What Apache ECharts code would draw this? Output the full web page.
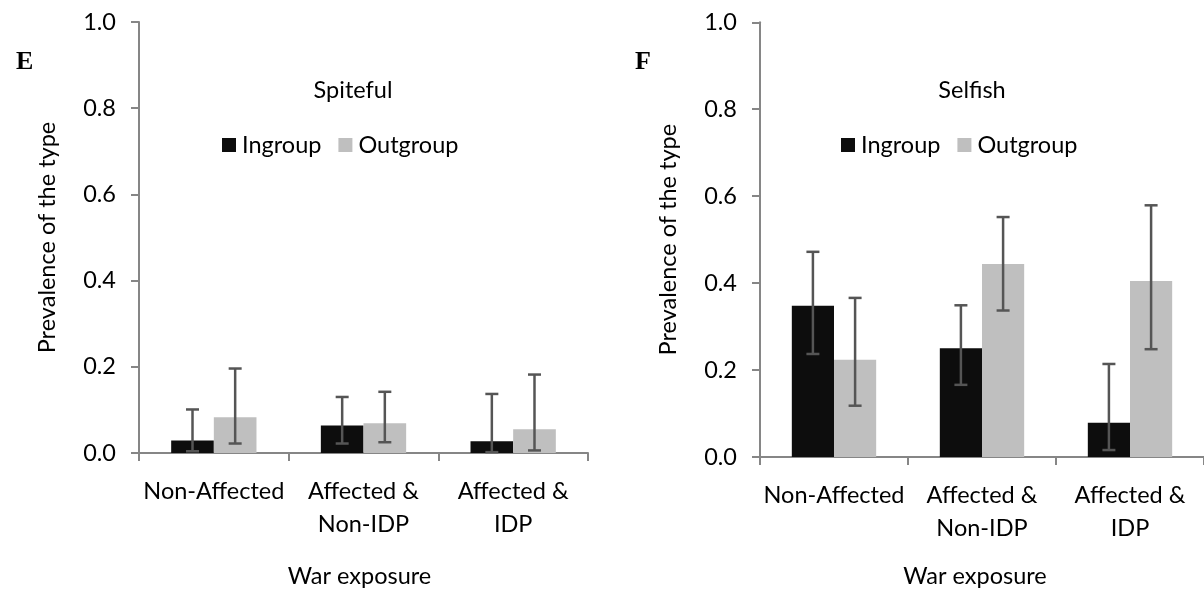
<!DOCTYPE html>
<html>
<head>
<meta charset="utf-8">
<script src="https://cdn.jsdelivr.net/npm/echarts@6/dist/echarts.min.js"></script>
<style>
  html, body { margin: 0; padding: 0; background: #fff; }
  #chart { width: 1204px; height: 593px; }
</style>
</head>
<body>
<div id="chart"></div>
<script>
// Categories of war exposure (x axis)
const categories = ['Non-Affected', 'Affected &\nNon-IDP', 'Affected &\nIDP'];
const yTicks = [0, 0.2, 0.4, 0.6, 0.8, 1.0];

// Panel E: Spiteful type
const spitefulIn = [0.029, 0.064, 0.027];
const spitefulInLow = [0.004, 0.022, 0.002];
const spitefulInHigh = [0.101, 0.130, 0.137];
const spitefulOut = [0.083, 0.069, 0.055];
const spitefulOutLow = [0.022, 0.025, 0.006];
const spitefulOutHigh = [0.196, 0.142, 0.182];

// Panel F: Selfish type
const selfishIn = [0.348, 0.250, 0.079];
const selfishInLow = [0.237, 0.166, 0.016];
const selfishInHigh = [0.472, 0.349, 0.214];
const selfishOut = [0.224, 0.444, 0.405];
const selfishOutLow = [0.118, 0.337, 0.248];
const selfishOutHigh = [0.366, 0.552, 0.579];

const FONT = 'Lato';
const FS = 23.5;
const AXIS_COLOR = '#868686';
const IN_COLOR = '#0d0d0d';
const OUT_COLOR = '#bfbfbf';
const ERR_COLOR = '#555555';
const CAT_GAP = 0.43;

function errorItems(low, high) {
  return low.map((l, i) => [i, l, high[i]]);
}

// Whisker with caps, centred on the bar of the given side (-1 ingroup, +1 outgroup)
function errorRenderer(side) {
  return function (params, api) {
    const idx = api.value(0);
    const lo = api.coord([idx, api.value(1)]);
    const hi = api.coord([idx, api.value(2)]);
    const band = api.size([1, 0])[0];
    const x = lo[0] + side * band * (1 - CAT_GAP) / 4;
    const cap = 6.5;
    const style = { stroke: ERR_COLOR, lineWidth: 2.5 };
    return {
      type: 'group',
      children: [
        { type: 'line', shape: { x1: x, y1: hi[1], x2: x, y2: lo[1] }, style },
        { type: 'line', shape: { x1: x - cap, y1: hi[1], x2: x + cap, y2: hi[1] }, style },
        { type: 'line', shape: { x1: x - cap, y1: lo[1], x2: x + cap, y2: lo[1] }, style }
      ]
    };
  };
}

function xAxis(gridIndex, nameGap, namePad) {
  return {
    type: 'category',
    gridIndex,
    data: categories,
    name: 'War exposure',
    nameLocation: 'middle',
    nameGap,
    nameTextStyle: { fontFamily: FONT, fontSize: FS, color: '#000', padding: namePad },
    axisLine: { lineStyle: { color: AXIS_COLOR, width: 2 } },
    axisTick: { show: true, length: 8, lineStyle: { color: AXIS_COLOR, width: 2 } },
    axisLabel: { fontFamily: FONT, fontSize: FS, color: '#000', margin: 22, lineHeight: 33, interval: 0 }
  };
}

function yAxis(gridIndex) {
  return {
    type: 'value',
    gridIndex,
    min: 0,
    max: 1,
    interval: 0.2,
    name: 'Prevalence of the type',
    nameLocation: 'middle',
    nameGap: 80,
    nameTextStyle: { fontFamily: FONT, fontSize: FS, color: '#000' },
    axisLine: { show: true, lineStyle: { color: AXIS_COLOR, width: 2 } },
    axisTick: { show: true, length: 8, lineStyle: { color: AXIS_COLOR, width: 2 } },
    splitLine: { show: false },
    axisLabel: {
      fontFamily: FONT, fontSize: FS, color: '#000', margin: 23,
      formatter: v => v.toFixed(1)
    }
  };
}

function barSeries(name, data, color, axisIndex) {
  return {
    name, type: 'bar', data,
    xAxisIndex: axisIndex, yAxisIndex: axisIndex,
    barGap: '0%', barCategoryGap: (CAT_GAP * 100) + '%',
    itemStyle: { color },
    emphasis: { disabled: true }
  };
}

function errSeries(name, low, high, side, axisIndex) {
  return {
    name: name + ' error', type: 'custom',
    xAxisIndex: axisIndex, yAxisIndex: axisIndex,
    data: errorItems(low, high),
    encode: { x: 0, y: [1, 2] },
    renderItem: errorRenderer(side),
    z: 5, silent: true
  };
}

function legend(left) {
  return {
    left, top: 128,
    data: ['Ingroup', 'Outgroup'],
    icon: 'rect', itemWidth: 14, itemHeight: 14, itemGap: 17,
    textStyle: { fontFamily: FONT, fontSize: FS, color: '#000', padding: [0, 0, 0, 1] },
    selectedMode: false
  };
}

const chart = echarts.init(document.getElementById('chart'), null, { renderer: 'canvas' });
chart.setOption({
  backgroundColor: '#fff',
  animation: false,
  title: [
    { text: 'E', left: 11, top: 44, textStyle: { fontFamily: 'Liberation Serif', fontWeight: 'bold', fontSize: 26, color: '#000' } },
    { text: 'F', left: 630, top: 44, textStyle: { fontFamily: 'Liberation Serif', fontWeight: 'bold', fontSize: 26, color: '#000' } },
    { text: 'Spiteful', left: 348, top: 73, textAlign: 'center', textStyle: { fontFamily: FONT, fontSize: FS, fontWeight: 'normal', color: '#000' } },
    { text: 'Selfish', left: 967, top: 73, textAlign: 'center', textStyle: { fontFamily: FONT, fontSize: FS, fontWeight: 'normal', color: '#000' } }
  ],
  legend: [legend(217), legend(836)],
  grid: [
    { left: 139, top: 22, width: 449, height: 431 },
    { left: 760, top: 22.3, width: 445.5, height: 435.2 }
  ],
  xAxis: [xAxis(0, 111, [0, 8, 0, 0]), xAxis(1, 107, [0, 14, 0, 0])],
  yAxis: [yAxis(0), yAxis(1)],
  series: [
    barSeries('Ingroup', spitefulIn, IN_COLOR, 0),
    barSeries('Outgroup', spitefulOut, OUT_COLOR, 0),
    errSeries('Ingroup', spitefulInLow, spitefulInHigh, -1, 0),
    errSeries('Outgroup', spitefulOutLow, spitefulOutHigh, 1, 0),
    barSeries('Ingroup', selfishIn, IN_COLOR, 1),
    barSeries('Outgroup', selfishOut, OUT_COLOR, 1),
    errSeries('Ingroup', selfishInLow, selfishInHigh, -1, 1),
    errSeries('Outgroup', selfishOutLow, selfishOutHigh, 1, 1)
  ]
});
</script>
</body>
</html>
